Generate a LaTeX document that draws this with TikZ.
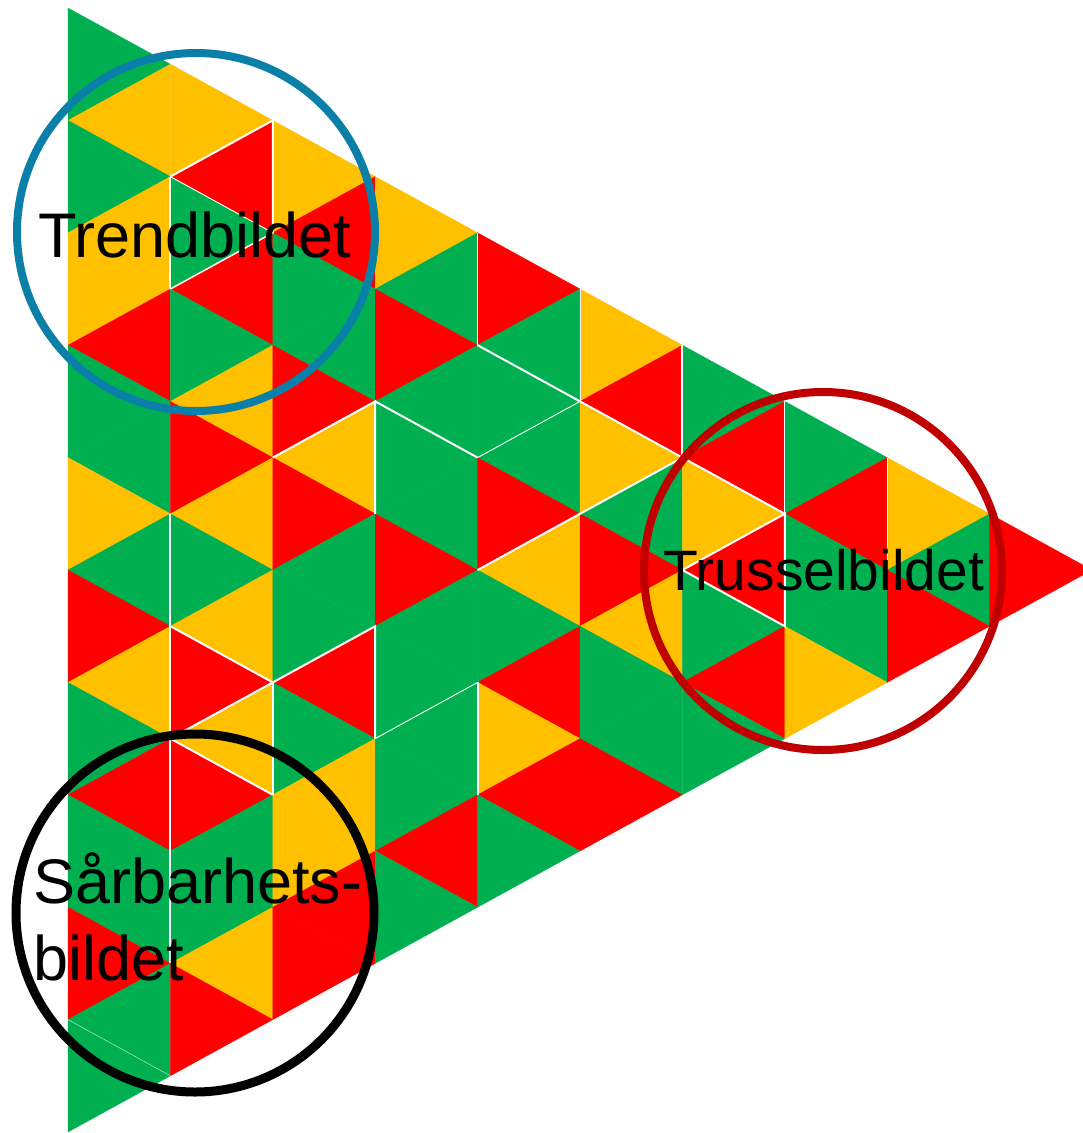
\documentclass[tikz,border=0pt]{standalone}
\usepackage{fontspec}
\setmainfont{Liberation Sans}
\definecolor{cg}{HTML}{00B050}
\definecolor{cy}{HTML}{FFC000}
\definecolor{cr}{HTML}{FF0000}
\definecolor{ringblue}{HTML}{0A80A8}
\definecolor{ringred}{HTML}{C00000}
\tikzset{
  tile/.style={fill=#1, draw=#1, line width=0.3pt, line join=round},
  wl/.style={draw=white, line width=2pt},
  wlmid/.style={draw=white, line width=1.5pt},
  wlthin/.style={draw=white, line width=0.9pt},
  wlfaint/.style={draw=white!70!cg, line width=0.5pt},
  lbl/.style={anchor=base west, inner sep=0pt, text=black},
  ring/.style={circle, draw=#1, line width=8pt, minimum size=358pt, inner sep=0pt}
}
% one column of the triangular mosaic: #1 = column index, #2 = colours top to bottom
\newcommand\tilecol[2]{%
  \foreach \c [count=\n from 0] in {#2} {%
    \pgfmathsetmacro\xa{68+102.4*#1}%
    \pgfmathsetmacro\xb{\xa+102.4}%
    \pgfmathtruncatemacro\kk{\n/2}%
    \pgfmathsetmacro\ya{8+56.2*#1+112.4*\kk}%
    \pgfmathsetmacro\yb{\ya+112.4}%
    \pgfmathsetmacro\ym{\ya+56.2}%
    \pgfmathsetmacro\yc{\ya+168.6}%
    \ifodd\n\relax
      \path[tile=c\c] (\xa,\yb) -- (\xb,\ym) -- (\xb,\yc) -- cycle;
    \else
      \path[tile=c\c] (\xa,\ya) -- (\xa,\yb) -- (\xb,\ym) -- cycle;
    \fi
  }%
}
\begin{document}
\begin{tikzpicture}[x=1pt,y=-1pt]
\useasboundingbox (0,0) rectangle (1083,1133);
\begin{scope}
\clip (0,0) rectangle (1083,1133);
\tilecol{0}{g,y,g,y,y,r,g,g,y,g,r,y,g,r,g,g,r,g,g}
\tilecol{1}{y,r,g,r,g,y,r,y,g,y,r,y,r,g,g,y,r}
\tilecol{2}{y,r,g,g,r,y,r,g,g,r,g,y,y,r,r}
\tilecol{3}{y,g,r,g,g,g,r,g,g,g,g,r,g}
\tilecol{4}{r,g,g,g,r,y,g,r,y,r,g}
\tilecol{5}{y,r,y,g,r,y,g,g,r}
\tilecol{6}{g,r,y,r,g,r,g}
\tilecol{7}{g,r,g,g,y}
\tilecol{8}{y,g,r}
\tilecol{9}{r}
% lattice points
\foreach \i in {0,...,10}{
  \pgfmathtruncatemacro\kmax{10-\i}
  \foreach \k in {0,...,\kmax}{
    \coordinate (p\i-\k) at ({68+102.4*\i},{8+56.2*\i+112.4*\k});
  }
}
% white seams
\draw[wl] (p1-1) -- (p2-0) -- (p2-1);
\draw[wl] (p1-1) -- (p1-2);
\draw[wlmid] (p1-2) -- (p2-1);
\draw[wlthin] (p1-1) -- (p2-1);
\draw[wl] (p2-3) -- (p3-2) -- (p3-3);
\draw[wl] (p1-4) -- (p1-8);
\draw[wl] (p1-5) -- (p2-5) -- (p3-4) -- (p3-5);
\draw[wl] (p2-5) -- (p2-6);
\draw[wl] (p1-6) -- (p2-5);
\draw[wl] (p1-6) -- (p2-6);
\draw[wl] (p3-2) -- (p4-2);
\draw[wl] (p4-1) -- (p5-1) -- (p6-1) -- (p7-1);
\draw[wl] (p6-0) -- (p6-1);
\draw[wlthin] (p4-2) -- (p5-1);
\draw[wl] (p4-3) -- (p5-2) -- (p6-1);
\draw[wlthin] (p3-5) -- (p4-4);
\draw[wl] (p4-4) -- (p4-5);
\draw[wl] (p7-1) -- (p6-2) -- (p7-2) -- cycle;
\draw[wlfaint] (p0-9) -- (p1-9);
\draw[wlthin] (p4-0) -- (p4-1);
\draw[wlthin] (p5-0) -- (p5-1);
\draw[wlthin] (p7-0) -- (p7-1);
\draw[wlthin] (p8-0) -- (p8-1);
\end{scope}
% rings
\node[ring=ringblue] (ctrend) at (196,232) {};
\node[ring=ringred] (ctruss) at (823,571) {};
\node[ring=black, line width=9pt] (csaar) at (195,913) {};
% labels
\node[lbl, font=\fontsize{63}{77}\selectfont] (ttrend) at (38,257) {Trendbildet};
\node[lbl, font=\fontsize{57}{68}\selectfont] (ttruss) at (663,590) {Trusselbildet};
\node[lbl, font=\fontsize{63}{77}\selectfont] (tsaar1) at (33,903) {Sårbarhets-};
\node[lbl, font=\fontsize{63}{77}\selectfont] (tsaar2) at (33,980) {bildet};
\end{tikzpicture}
\end{document}
